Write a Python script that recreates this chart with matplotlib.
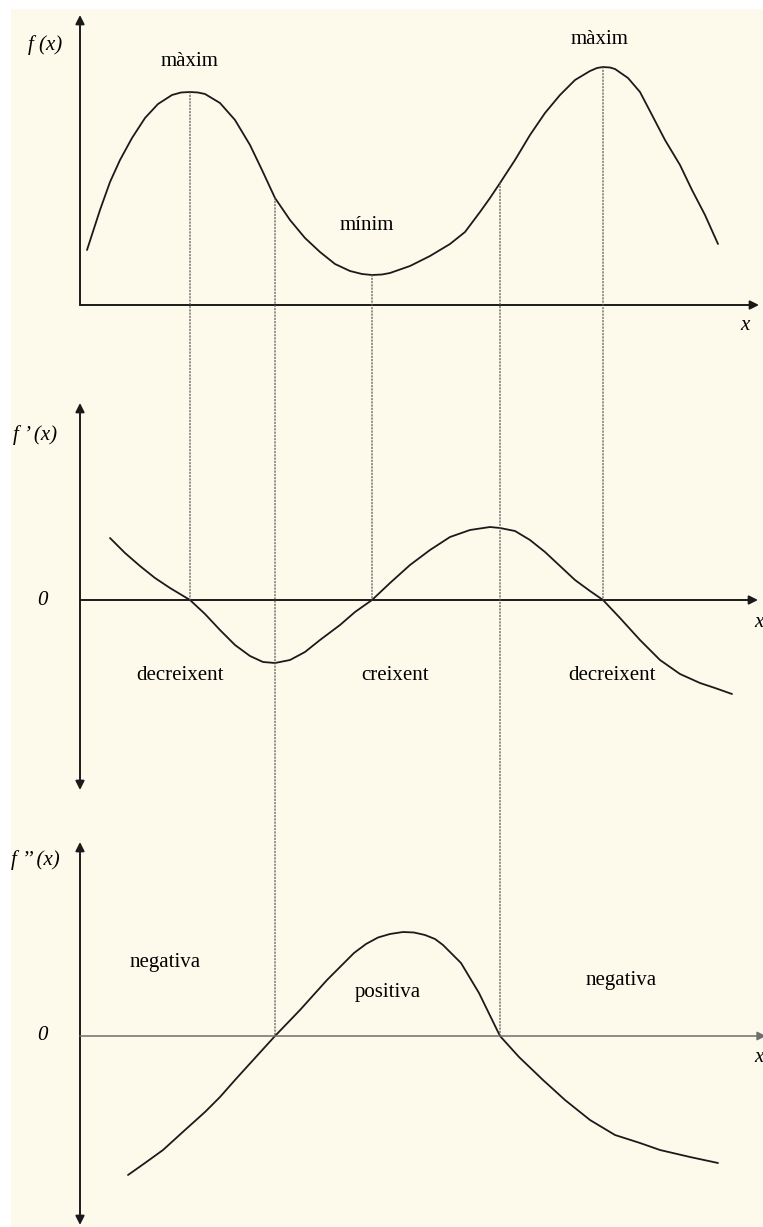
import numpy as np
import matplotlib
matplotlib.use("Agg")
import matplotlib.pyplot as plt
from matplotlib.patches import Rectangle, ConnectionPatch

plt.rcParams['font.family'] = ['Liberation Serif', 'DejaVu Serif']

# ---- data (x shared, y relative to each panel's x-axis) ----
f_x = [7, 20, 30, 40, 52, 65, 78, 92, 101, 110, 118, 125, 140, 155, 170, 182, 195, 210, 225, 240,
       255, 270, 282, 292, 302, 310, 330, 350, 370, 385, 400, 410, 420, 435, 450, 465, 480, 495,
       510, 517, 523, 530, 535, 548, 560, 572, 585, 600, 612, 625, 638]
f_y = [55, 95, 123, 145, 167, 187, 201, 210, 212.5, 213, 212.5, 211, 202, 185, 160, 135, 107, 85,
       67, 53, 41, 34, 31, 30, 30.5, 32, 39, 49, 61, 73, 93, 107, 122, 145, 170, 192, 210, 225,
       234, 237, 238, 237.5, 236, 227, 213, 190, 165, 140, 115, 90, 61]

d1_x = [30, 45, 60, 75, 90, 110, 125, 140, 155, 170, 183, 195, 210, 225, 240, 260, 275, 292, 310,
        330, 350, 370, 390, 410, 420, 435, 450, 465, 480, 495, 510, 523, 540, 560, 580, 600, 620,
        635, 652]
d1_y = [62, 47, 34, 22, 12, 0, -14, -30, -45, -56, -62, -63, -60, -52, -40, -25, -12, 0, 17,
        35, 50, 63, 70, 73, 72, 69, 60, 48, 34, 20, 9, 0, -18, -40, -60, -74, -83,
        -88, -94]

d2_x = [48, 65, 83, 105, 125, 140, 155, 175, 195, 220, 247, 274, 286, 298, 310, 323, 334, 345,
        355, 363, 381, 399, 420, 439, 463, 485, 510, 535, 560, 580, 610, 638]
d2_y = [-139, -127, -114, -94, -76, -61, -44, -22, 0, 26, 56, 83, 92, 98.5, 102, 104, 103.5, 101,
        97, 91, 73, 43, 0, -21, -44, -64, -84, -99, -107, -114, -121, -127]

max_x = [110, 523]          # màxims
min_x = [292]               # mínim
infl_x = [195, 420]         # punts d'inflexió

top_labels = ["màxim", "mínim", "màxim"]
mid_labels = ["decreixent", "creixent", "decreixent"]
bot_labels = ["negativa", "positiva", "negativa"]

# ---- figure ----
W, H = 763, 1227
fig = plt.figure(figsize=(W / 100, H / 100), dpi=100, facecolor="white")
fig.patches.append(Rectangle((11 / W, 0), 1 - 11 / W, 1 - 9 / H, transform=fig.transFigure,
                             facecolor="#FDFAEC", edgecolor="none", zorder=-10))

def make_ax(top_px, bot_px, zero_px):
    ax = fig.add_axes([0, 1 - bot_px / H, 1, (bot_px - top_px) / H])
    ax.set_xlim(-80, W - 80)
    ax.set_ylim(zero_px - bot_px, zero_px - top_px)
    ax.axis("off")
    ax.patch.set_alpha(0)
    return ax

ax1 = make_ax(0, 345, 305)
ax2 = make_ax(370, 810, 600)
ax3 = make_ax(815, 1227, 1036)

ink = "#1a1a1a"
serif = ['Liberation Serif', 'DejaVu Serif']
fs = 15

def arrow(ax, p0, p1, style="-|>", color=ink, lw=1.4):
    ax.annotate("", xy=p1, xytext=p0, annotation_clip=False,
                arrowprops=dict(arrowstyle=style, color=color, lw=lw,
                                mutation_scale=13, shrinkA=0, shrinkB=0))

# panel 1
arrow(ax1, (0, 0), (0, 290))
arrow(ax1, (0, 0), (679, 0))
ax1.plot(f_x, f_y, color=ink, lw=1.3, solid_capstyle="round", solid_joinstyle="round")
ax1.text(-35, 260, "f (x)", fontsize=fs, style="italic", ha="center", va="center", family=serif)
ax1.text(665, -20, "x", fontsize=fs, style="italic", ha="center", va="center", family=serif)
ax1.text(110, 243, top_labels[0], fontsize=fs, ha="center", va="center", family=serif)
ax1.text(287, 80, top_labels[1], fontsize=fs, ha="center", va="center", family=serif)
ax1.text(520, 265, top_labels[2], fontsize=fs, ha="center", va="center", family=serif)

# panel 2
arrow(ax2, (0, -190), (0, 197), style="<|-|>")
arrow(ax2, (0, 0), (678, 0))
ax2.plot(d1_x, d1_y, color=ink, lw=1.3, solid_capstyle="round", solid_joinstyle="round")
ax2.text(-45, 165, "f \u2019 (x)", fontsize=fs, style="italic", ha="center", va="center", family=serif)
ax2.text(-38, 0, "0", fontsize=fs, style="italic", ha="center", va="center", family=serif)
ax2.text(679, -22, "x", fontsize=fs, style="italic", ha="center", va="center", family=serif)
for xx, lab in zip([100, 315, 532], mid_labels):
    ax2.text(xx, -75, lab, fontsize=fs, ha="center", va="center", family=serif)

# panel 3
arrow(ax3, (0, -189), (0, 194), style="<|-|>")
arrow(ax3, (0, 0), (686, 0), color="#6e6e6e", lw=1.1)
ax3.plot(d2_x, d2_y, color=ink, lw=1.3, solid_capstyle="round", solid_joinstyle="round")
ax3.text(-45, 176, "f \u2019\u2019 (x)", fontsize=fs, style="italic", ha="center", va="center", family=serif)
ax3.text(-38, 0, "0", fontsize=fs, style="italic", ha="center", va="center", family=serif)
ax3.text(679, -22, "x", fontsize=fs, style="italic", ha="center", va="center", family=serif)
for (xx, yy), lab in zip([(85, 73), (308, 43), (541, 56)], bot_labels):
    ax3.text(xx, yy, lab, fontsize=fs, ha="center", va="center", family=serif)

# dotted guide lines
def guide(x, target):
    y0 = float(np.interp(x, f_x, f_y))
    cp = ConnectionPatch(xyA=(x, y0), coordsA=ax1.transData,
                         xyB=(x, 0), coordsB=target.transData,
                         linestyle=(0, (1, 1.6)), color="#555555", lw=0.9)
    fig.add_artist(cp)

for x in max_x + min_x:
    guide(x, ax2)
for x in infl_x:
    guide(x, ax3)

fig.savefig("out.png", dpi=100, facecolor="white")
